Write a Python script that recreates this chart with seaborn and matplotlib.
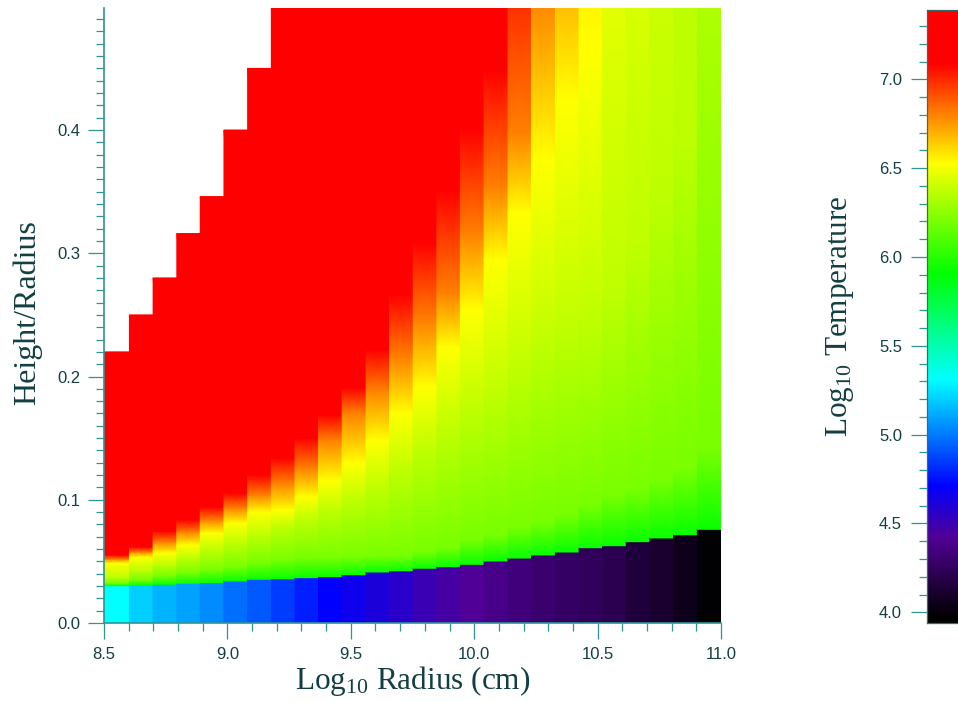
import numpy as np
import seaborn as sns
import matplotlib
matplotlib.use("Agg")
import matplotlib.pyplot as plt
from matplotlib.colors import LinearSegmentedColormap, Normalize
from matplotlib.ticker import MultipleLocator

sns.set_style("ticks")
plt.rcParams.update({
    "font.family": ["Liberation Sans", "DejaVu Sans"],
    "mathtext.fontset": "custom",
    "mathtext.rm": "Liberation Serif",
    "mathtext.default": "rm",
})

# column edges in log radius
log_r_edges = [8.500, 8.603, 8.699, 8.795, 8.890, 8.986, 9.082, 9.178, 9.274, 9.369,
               9.465, 9.562, 9.657, 9.753, 9.849, 9.944, 10.040, 10.137, 10.232, 10.329,
               10.425, 10.520, 10.616, 10.712, 10.808, 10.904, 11.000]

# top of the computed region in each column
column_top = [0.220, 0.250, 0.280, 0.316, 0.346, 0.400, 0.450, 0.5, 0.5, 0.5, 0.5, 0.5, 0.5,
              0.5, 0.5, 0.5, 0.5, 0.5, 0.5, 0.5, 0.5, 0.5, 0.5, 0.5, 0.5, 0.5]

# cool layer: height and log temperature
cold_top = [.0303, .0308, .0314, .0322, .0327, .0341, .0355, .0359, .0368, .0376, .0392, .0414, .0424,
            .0444, .0457, .0476, .0503, .0527, .0552, .0576, .0611, .0627, .0660, .0690, .0716, .0760]
cold_temp = [5.31, 5.20, 5.13, 5.09, 5.04, 4.97, 4.92, 4.85, 4.78, 4.71, 4.66, 4.61, 4.56,
             4.50, 4.46, 4.42, 4.38, 4.34, 4.30, 4.27, 4.24, 4.21, 4.15, 4.11, 4.05, 3.98]

# heights where the hot layer reaches a given log temperature
h_t620 = [.0325, .0349, .0381, .0406, .0430, .0454, .0487, .0511, .0527, .0527, .0536, .0544, .0544,
          .0576, .0609, .0673, .0714, .0771, .0819, .0876, .0957, .1039, .1079, .1160, .1241, .1404]
h_t637 = [.0373, .0430, .0471, .0527, .0592, .0649, .0714, .0779, .0844, .0917, .0998, .1095, .1241,
          .1404, .1566, .1728, .1850, .2053, .2256, .2377, .2458, .2702, .3026, .3513, .4000, None]
h_t653 = [.0487, .0535, .0568, .0633, .0730, .0811, .0901, .0917, .1022, .1160, .1298, .1485, .1704,
          .1915, .2239, .2540, .2945, .3327, .3757, .4243, .4649, None, None, None, None, None]
h_t681 = [.0519, .0576, .0657, .0738, .0836, .0933, .1039, .1136, .1258, .1485, .1704, .1890, .2158,
          .2458, .2677, .3164, .3538, .3976, None, None, None, None, None, None, None, None]
h_t709 = [.0552, .0617, .0746, .0836, .0941, .1055, .1201, .1339, .1501, .1688, .1907, .2215, .2661,
          .3083, .3513, .4000, .4487, None, None, None, None, None, None, None, None, None]
# log temperature at the upper edge of each column
top_temp = [7.2, 7.2, 7.2, 7.2, 7.2, 7.2, 7.2, 7.2, 7.2, 7.2, 7.2, 7.2, 7.2,
            7.2, 7.2, 7.2, 7.2, 6.98, 6.79, 6.67, 6.55, 6.46, 6.43, 6.40, 6.37, 6.33]

isotherms = [(6.20, h_t620), (6.37, h_t637), (6.53, h_t653), (6.81, h_t681), (7.09, h_t709)]

x_ticks = [8.5, 9.0, 9.5, 10.0, 10.5, 11.0]
y_ticks = [0.0, 0.1, 0.2, 0.3, 0.4]
cbar_ticks = [4.0, 4.5, 5.0, 5.5, 6.0, 6.5, 7.0]

t_min, t_max = 3.94, 7.39
cmap_levels = [3.97, 4.42, 4.71, 5.31, 5.91, 6.53, 7.09, 7.39]
cmap_colors = ["#000000", "#500096", "#0000ff", "#00ffff", "#00ff00", "#ffff00", "#ff0000", "#ff0000"]

axis_col = "#2f9494"
text_col = "#123f42"

norm = Normalize(t_min, t_max)
cmap = LinearSegmentedColormap.from_list(
    "temp",
    [((t_min - t_min) / (t_max - t_min), "#000000")]
    + [((l - t_min) / (t_max - t_min), c) for l, c in zip(cmap_levels, cmap_colors)],
    N=1024,
)

fig = plt.figure(figsize=(9.58, 7.02), dpi=100)
ax = fig.add_axes([104 / 958, 79 / 702, 617 / 958, 615 / 702])
cax = fig.add_axes([927 / 958, 79 / 702, 31 / 958, 613 / 702])

for i in range(len(cold_top)):
    heights = [0, cold_top[i], cold_top[i]]
    temps = [cold_temp[i], cold_temp[i], 5.93]
    for t, h in isotherms:
        if h[i] is not None and h[i] < column_top[i]:
            heights.append(h[i])
            temps.append(t)
    heights.append(column_top[i])
    temps.append(top_temp[i])
    xs = np.array([[log_r_edges[i], log_r_edges[i + 1]]] * len(heights))
    ys = np.column_stack([heights, heights])
    cs = np.column_stack([temps, temps])
    ax.pcolormesh(xs, ys, cs, shading="gouraud", cmap=cmap, norm=norm, rasterized=True)

ax.set_xlim(8.5, 11.0)
ax.set_ylim(0, 0.499)
ax.set_xticks(x_ticks, [f"{v:.1f}" for v in x_ticks])
ax.set_yticks(y_ticks, [f"{v:.1f}" for v in y_ticks])
ax.xaxis.set_minor_locator(MultipleLocator(0.1))
ax.yaxis.set_minor_locator(MultipleLocator(0.01))
sns.despine(ax=ax)
for side in ["left", "bottom"]:
    ax.spines[side].set_color(axis_col)
    ax.spines[side].set_linewidth(1.2)
ax.tick_params(which="major", length=11.5, width=0.9, color=axis_col, labelcolor=text_col, labelsize=12, pad=5.5)
ax.tick_params(which="minor", length=5.8, width=0.9, color=axis_col)
ax.set_xlabel(r"Log$_{10}$ Radius (cm)", fontsize=22.5, family="Liberation Serif", color=text_col)
ax.set_ylabel("Height/Radius", fontsize=23, family="Liberation Serif", color=text_col)
ax.xaxis.set_label_coords(0.5, -0.066)
ax.yaxis.set_label_coords(-0.1, 0.505)

# colour scale strip, lowest level in the bottom row
strip = np.linspace(t_min, t_max, 512).reshape(-1, 1)
sns.heatmap(strip, ax=cax, cmap=cmap, norm=norm, cbar=False, xticklabels=False, yticklabels=False)
cax.set_ylim(0, 512)


def strip_pos(v):
    return (np.asarray(v) - t_min) / (t_max - t_min) * 512


cax.set_yticks(strip_pos(cbar_ticks), [f"{v:.1f}" for v in cbar_ticks], rotation=0)
cax.set_yticks(strip_pos([v / 10 for v in range(40, 74) if v % 5 != 0]), minor=True)
cax.set_xticks([])
cax.tick_params(which="major", left=True, length=11.5, width=0.9, color=axis_col, labelcolor=text_col, labelsize=12, pad=6.5)
cax.tick_params(which="minor", left=True, length=5.8, width=0.9, color=axis_col)
cax.set_ylabel(r"Log$_{10}$ Temperature", fontsize=22.5, family="Liberation Serif", color=text_col)
cax.yaxis.set_label_coords(-2.3, 0.5)
for side in ["left", "bottom", "top"]:
    cax.spines[side].set_visible(True)
    cax.spines[side].set_color("#3a6a6a")
    cax.spines[side].set_linewidth(0.9)

fig.savefig("out.png", dpi=100)
